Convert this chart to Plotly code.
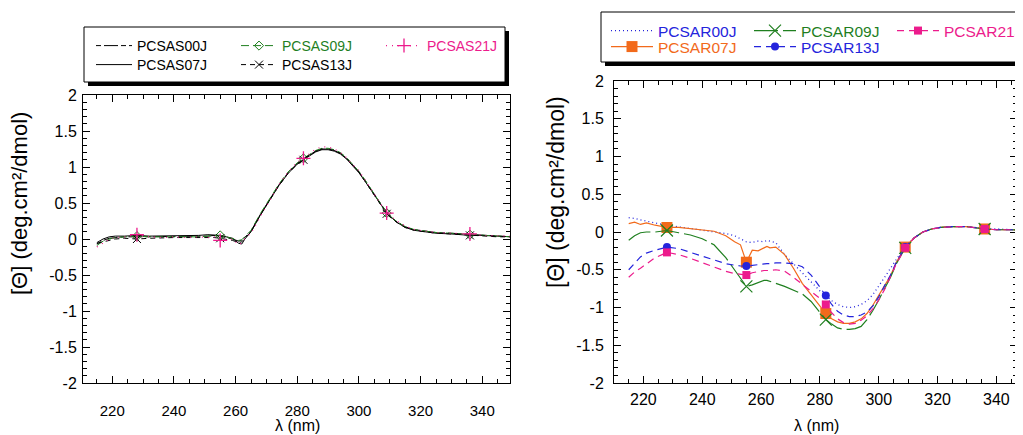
import plotly.graph_objects as go

# The page body has an 8px default margin, so the figure is drawn 8px in from
# the window's top-left corner; sizes/positions below are in window pixels.
OFF = 8
W, H = 1023 - OFF, 435 - OFF


def px(x):
    return (x - OFF) / W


def py(y):
    return 1 - (y - OFF) / H


# ---------------- data ----------------
wavelength = [215, 217, 219, 221, 224, 228, 232, 236, 240, 244, 248, 251, 253, 255, 257, 259, 261, 262, 263, 265,
              268, 271, 274, 277, 280, 282, 284, 286, 288, 290, 292, 294, 296, 298, 300, 302, 304, 306, 309, 312,
              315, 318, 321, 325, 330, 336, 340, 345, 350]
marker_wavelengths = [228, 255, 282, 309, 336]

PCSAS00J = [-0.07, -0.02, 0.01, 0.02, 0.03, 0.03, 0.03, 0.03, 0.03, 0.04, 0.03, 0.04, 0.05, 0.04, 0.02, 0.00, -0.03,
            -0.02, 0.02, 0.11, 0.34, 0.55, 0.75, 0.92, 1.05, 1.11, 1.17, 1.22, 1.25, 1.25, 1.23, 1.19, 1.12, 1.03,
            0.93, 0.81, 0.68, 0.55, 0.37, 0.25, 0.17, 0.13, 0.11, 0.09, 0.08, 0.06, 0.05, 0.04, 0.03]
PCSAS07J = [-0.05, 0.00, 0.03, 0.04, 0.04, 0.05, 0.04, 0.04, 0.04, 0.05, 0.05, 0.06, 0.06, 0.05, 0.03, 0.01, -0.06,
            -0.07, 0.00, 0.10, 0.33, 0.54, 0.74, 0.91, 1.04, 1.10, 1.16, 1.21, 1.24, 1.24, 1.22, 1.18, 1.11, 1.02,
            0.92, 0.80, 0.67, 0.54, 0.36, 0.24, 0.16, 0.12, 0.10, 0.08, 0.07, 0.05, 0.05, 0.04, 0.03]
PCSAS09J = [-0.09, -0.03, 0.00, 0.02, 0.03, 0.04, 0.03, 0.03, 0.02, 0.03, 0.03, 0.04, 0.05, 0.05, 0.03, 0.01, -0.02,
            -0.01, 0.03, 0.12, 0.35, 0.56, 0.76, 0.93, 1.06, 1.12, 1.18, 1.23, 1.26, 1.26, 1.24, 1.20, 1.13, 1.04,
            0.94, 0.82, 0.69, 0.56, 0.36, 0.25, 0.17, 0.13, 0.11, 0.09, 0.08, 0.06, 0.05, 0.04, 0.03]
PCSAS13J = [-0.06, -0.04, -0.01, 0.00, 0.01, 0.00, 0.01, 0.02, 0.02, 0.02, 0.02, 0.03, 0.02, 0.01, 0.00, -0.02, -0.05,
            -0.04, 0.01, 0.10, 0.33, 0.54, 0.74, 0.91, 1.04, 1.10, 1.17, 1.22, 1.25, 1.25, 1.23, 1.19, 1.12, 1.03,
            0.93, 0.80, 0.67, 0.54, 0.35, 0.24, 0.16, 0.12, 0.10, 0.08, 0.07, 0.05, 0.04, 0.03, 0.03]
PCSAS21J = [-0.11, -0.05, 0.00, 0.02, 0.03, 0.06, 0.03, 0.02, 0.03, 0.02, 0.03, 0.02, 0.03, -0.02, -0.01, 0.00, -0.08,
            -0.05, 0.01, 0.08, 0.31, 0.53, 0.75, 0.93, 1.07, 1.12, 1.19, 1.25, 1.28, 1.28, 1.25, 1.20, 1.13, 1.03,
            0.95, 0.82, 0.70, 0.57, 0.36, 0.26, 0.18, 0.13, 0.11, 0.09, 0.08, 0.07, 0.05, 0.04, 0.04]

PCSAR00J = [0.19, 0.18, 0.16, 0.14, 0.12, 0.09, 0.07, 0.04, 0.02, 0.00, -0.02, -0.05, -0.09, -0.13, -0.14, -0.12,
            -0.13, -0.11, -0.12, -0.14, -0.30, -0.42, -0.55, -0.66, -0.78, -0.84, -0.91, -0.96, -0.99, -1.00, -0.99,
            -0.96, -0.91, -0.83, -0.72, -0.60, -0.48, -0.36, -0.19, -0.08, 0.00, 0.04, 0.06, 0.07, 0.07, 0.05, 0.04,
            0.03, 0.03]
PCSAR07J = [0.11, 0.13, 0.10, 0.12, 0.09, 0.06, 0.06, 0.04, 0.02, 0.01, -0.05, -0.13, -0.17, -0.40, -0.24, -0.25,
            -0.21, -0.19, -0.21, -0.20, -0.30, -0.48, -0.68, -0.83, -0.99, -1.08, -1.15, -1.19, -1.21, -1.21, -1.19,
            -1.15, -1.08, -0.97, -0.84, -0.70, -0.58, -0.40, -0.20, -0.08, 0.00, 0.04, 0.06, 0.07, 0.07, 0.04, 0.03,
            0.03, 0.02]
PCSAR09J = [-0.11, -0.05, -0.01, 0.00, 0.00, 0.02, -0.01, -0.04, -0.09, -0.17, -0.34, -0.50, -0.62, -0.72, -0.70,
            -0.67, -0.64, -0.64, -0.65, -0.68, -0.72, -0.77, -0.82, -0.92, -1.06, -1.16, -1.22, -1.27, -1.29, -1.29,
            -1.28, -1.25, -1.16, -1.04, -0.90, -0.76, -0.60, -0.42, -0.21, -0.08, 0.00, 0.04, 0.06, 0.07, 0.07, 0.04,
            0.03, 0.03, 0.02]
PCSAR13J = [-0.50, -0.41, -0.33, -0.28, -0.24, -0.20, -0.22, -0.27, -0.32, -0.38, -0.42, -0.44, -0.45, -0.45, -0.44,
            -0.43, -0.42, -0.42, -0.42, -0.41, -0.41, -0.42, -0.46, -0.57, -0.73, -0.84, -0.96, -1.05, -1.10, -1.12,
            -1.12, -1.10, -1.06, -0.98, -0.86, -0.71, -0.57, -0.40, -0.20, -0.08, 0.00, 0.04, 0.06, 0.07, 0.07, 0.04,
            0.03, 0.03, 0.02]
PCSAR21J = [-0.60, -0.53, -0.48, -0.42, -0.34, -0.27, -0.30, -0.35, -0.41, -0.47, -0.52, -0.55, -0.56, -0.57, -0.54,
            -0.52, -0.51, -0.51, -0.51, -0.50, -0.52, -0.60, -0.69, -0.79, -0.88, -0.96, -1.07, -1.15, -1.20, -1.22,
            -1.21, -1.17, -1.11, -1.02, -0.90, -0.76, -0.60, -0.42, -0.21, -0.08, 0.00, 0.04, 0.06, 0.07, 0.07, 0.04,
            0.03, 0.03, 0.02]

x_tick_values = [220, 240, 260, 280, 300, 320, 340]
y_tick_values = [-2, -1.5, -1, -0.5, 0, 0.5, 1, 1.5, 2]
y_tick_labels = ['-2', '-1.5', '-1', '-0.5', '0', '0.5', '1', '1.5', '2']
y_title = '[Θ] (deg.cm²/dmol)'
x_title = 'λ (nm)'

# ---------------- styles ----------------
FONT = 'Liberation Sans, Arial, Helvetica, sans-serif'
GREEN = '#1f7f1f'
PINK = '#ec1b8c'
BLUE = '#2424dc'
ORANGE = '#f26a1b'
BLACK = '#000000'

mark_idx = [i for i, w in enumerate(wavelength) if w in marker_wavelengths]

fig = go.Figure()


def add(series, name, color, textcolor, dash, width, xa, ya, legend,
        symbol=None, msize=8, mlw=1):
    kw = {}
    if symbol:
        kw['mode'] = 'lines+markers'
        kw['marker'] = dict(symbol=symbol, size=msize, color=color,
                            line=dict(color=color, width=mlw))
        kw['selectedpoints'] = mark_idx
        kw['selected'] = dict(marker=dict(opacity=1))
        kw['unselected'] = dict(marker=dict(opacity=0))
    else:
        kw['mode'] = 'lines'
    fig.add_trace(go.Scatter(
        x=wavelength, y=series, xaxis=xa, yaxis=ya, legend=legend,
        name='<span style="color:%s">%s</span>' % (textcolor, name),
        line=dict(color=color, width=width, dash=dash),
        hoverinfo='x+y', **kw))


# left panel
add(PCSAS07J, 'PCSAS07J', BLACK, BLACK, 'solid', 1, 'x', 'y', 'legend2')
add(PCSAS00J, 'PCSAS00J', BLACK, BLACK, '5px,3px,14px,3px', 1, 'x', 'y', 'legend')
add(PCSAS09J, 'PCSAS09J', GREEN, GREEN, '8px,4px', 1, 'x', 'y', 'legend',
    symbol='diamond-open', msize=7, mlw=1)
add(PCSAS13J, 'PCSAS13J', BLACK, BLACK, '5px,4px', 1, 'x', 'y', 'legend2',
    symbol='x-thin', msize=8, mlw=1)
add(PCSAS21J, 'PCSAS21J', PINK, PINK, '1px,5px', 1.2, 'x', 'y', 'legend',
    symbol='cross-thin', msize=10, mlw=1.3)

# right panel
add(PCSAR00J, 'PCSAR00J', BLUE, BLUE, '1px,3px', 1.3, 'x2', 'y2', 'legend3')
add(PCSAR07J, 'PCSAR07J', ORANGE, ORANGE, 'solid', 1.2, 'x2', 'y2', 'legend4',
    symbol='square', msize=11, mlw=0)
add(PCSAR09J, 'PCSAR09J', GREEN, GREEN, '24px,5px', 1.2, 'x2', 'y2', 'legend3',
    symbol='x-thin', msize=12, mlw=1.2)
add(PCSAR13J, 'PCSAR13J', BLUE, BLUE, '7px,5px', 1.2, 'x2', 'y2', 'legend4',
    symbol='circle', msize=8, mlw=0)
add(PCSAR21J, 'PCSAR21J', PINK, PINK, '7px,5px', 1.2, 'x2', 'y2', 'legend3',
    symbol='square', msize=8, mlw=0)


def xaxis(dom, rng, fsize, standoff, anchor):
    return dict(domain=dom, range=rng, tickmode='array', tickvals=x_tick_values, anchor=anchor,
                ticks='inside', ticklen=7, tickwidth=1, tickcolor='black',
                showline=True, linecolor='black', linewidth=1, mirror='ticks',
                showgrid=False, zeroline=False,
                minor=dict(ticks='inside', ticklen=4, tickcolor='black', dtick=5, tick0=215, showgrid=False),
                tickfont=dict(family=FONT, size=fsize, color='black'),
                ticklabelstandoff=standoff, fixedrange=True)


def yaxis(dom, fsize, standoff, anchor):
    return dict(domain=dom, range=[-2, 2], tickmode='array', tickvals=y_tick_values, ticktext=y_tick_labels,
                ticks='inside', ticklen=7, tickwidth=1, tickcolor='black',
                showline=True, linecolor='black', linewidth=1, mirror='ticks',
                showgrid=False, zeroline=False, anchor=anchor,
                minor=dict(ticks='inside', ticklen=4, tickcolor='black', dtick=0.1, tick0=0, showgrid=False),
                tickfont=dict(family=FONT, size=fsize, color='black'),
                ticklabelstandoff=standoff, fixedrange=True)


def legend_cfg(x, y, fsize, ew, iw, yanchor='middle'):
    return dict(orientation='h', x=px(x), y=py(y), xanchor='left', yanchor=yanchor,
                bgcolor='rgba(0,0,0,0)', borderwidth=0, font=dict(family=FONT, size=fsize, color='black'),
                entrywidth=ew, entrywidthmode='pixels', itemwidth=iw, traceorder='normal',
                itemclick=False, itemdoubleclick=False, tracegroupgap=0)


shapes = [
    # left legend shadow + box
    dict(type='rect', xref='paper', yref='paper', x0=px(88), x1=px(509), y0=py(86), y1=py(31),
         fillcolor='black', line=dict(width=0), layer='above'),
    dict(type='rect', xref='paper', yref='paper', x0=px(84), x1=px(505), y0=py(82), y1=py(27),
         fillcolor='white', line=dict(color='black', width=1), layer='above'),
    # right legend shadow + box
    dict(type='rect', xref='paper', yref='paper', x0=px(605), x1=px(1040), y0=py(66), y1=py(16),
         fillcolor='black', line=dict(width=0), layer='above'),
    dict(type='rect', xref='paper', yref='paper', x0=px(601), x1=px(1036), y0=py(62), y1=py(12),
         fillcolor='white', line=dict(color='black', width=1), layer='above'),
]

annotations = [
    dict(text=y_title, xref='paper', yref='paper', x=px(19), y=py(204), textangle=-90, showarrow=False,
         xanchor='center', yanchor='middle', font=dict(family=FONT, size=22, color='black')),
    dict(text=y_title, xref='paper', yref='paper', x=px(556), y=py(192), textangle=-90, showarrow=False,
         xanchor='center', yanchor='middle', font=dict(family=FONT, size=23, color='black')),
    dict(text=x_title, xref='paper', yref='paper', x=px(297), y=py(425), showarrow=False,
         xanchor='center', yanchor='middle', font=dict(family=FONT, size=16, color='black')),
    dict(text=x_title, xref='paper', yref='paper', x=px(816), y=py(425), showarrow=False,
         xanchor='center', yanchor='middle', font=dict(family=FONT, size=16, color='black')),
]

fig.update_layout(
    width=W, height=H, margin=dict(l=0, r=0, t=0, b=0, autoexpand=False),
    paper_bgcolor='white', plot_bgcolor='white',
    font=dict(family=FONT, color='black'),
    xaxis=xaxis([px(83), px(510)], [210.5, 349], 15, 14, 'y'),
    yaxis=yaxis([py(383), py(95)], 16, 2, 'x'),
    xaxis2=xaxis([px(614), px(1017)], [210, 347], 16, 2, 'y2'),
    yaxis2=yaxis([py(383), py(81)], 16, 6, 'x2'),
    legend=legend_cfg(91, 46, 14, 94, 36),
    legend2=legend_cfg(91, 65, 14, 94, 36),
    legend3=legend_cfg(606, 14, 15.5, 86, 42, yanchor='top'),
    legend4=legend_cfg(606, 47, 15.5, 86, 42),
    shapes=shapes, annotations=annotations, showlegend=True,
    hovermode='closest',
)

fig.write_html('out.html', config=dict(displayModeBar=False))
